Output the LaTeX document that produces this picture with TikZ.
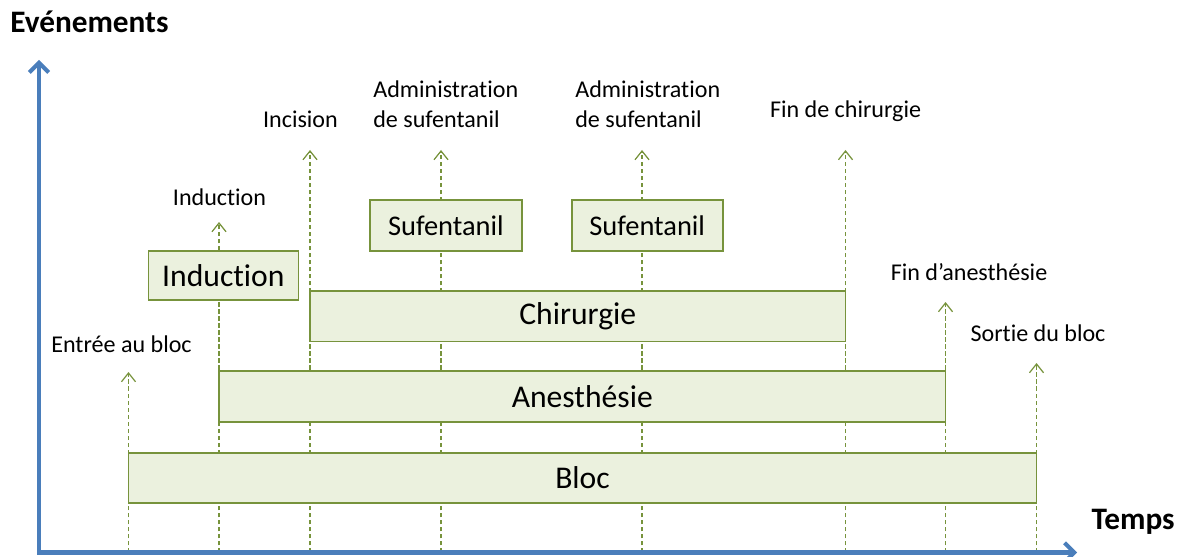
\documentclass[tikz,border=0pt]{standalone}
\usepackage{fontspec}
\setmainfont{Carlito}[Ligatures=CommonOff]
\usetikzlibrary{arrows.meta}
\definecolor{boxline}{HTML}{77933C}
\definecolor{boxfill}{HTML}{EBF1DE}
\definecolor{axisblue}{HTML}{4A7EBB}

\begin{document}
\begin{tikzpicture}[x=0.02cm,y=-0.02cm,
  box/.style={draw=boxline,fill=boxfill,line width=1pt,inner sep=0pt,font=\fontsize{18}{21}\selectfont},
  evt/.style={draw=boxline,line width=0.7pt,dash pattern=on 2.5pt off 1.5pt,-{Straight Barb[length=5pt,width=8pt]}},
  lbl/.style={font=\fontsize{13.7}{17}\selectfont,inner sep=0pt,align=center},
  axe/.style={draw=axisblue,line width=2.3pt,line join=miter,{Straight Barb[length=5.5pt,width=11pt]}-{Straight Barb[length=5.5pt,width=11pt]}}]
\useasboundingbox (0,0) rectangle (1185,557);

\coordinate (O) at (39,552.5);
\coordinate (ytop) at (39,60);
\coordinate (xend) at (1077,552.5);

% event tips
\coordinate (a1) at (128.5,372);
\coordinate (a2) at (219,222);
\coordinate (a3) at (310,150);
\coordinate (a4) at (441,150);
\coordinate (a5) at (642,150);
\coordinate (a6) at (845.5,150);
\coordinate (a7) at (945.5,302);
\coordinate (a8) at (1036.5,363);

\draw[evt] (a1 |- O) -- (a1);
\draw[evt] (a2 |- O) -- (a2);
\draw[evt] (a3 |- O) -- (a3);
\draw[evt] (a4 |- O) -- (a4);
\draw[evt] (a5 |- O) -- (a5);
\draw[evt] (a6 |- O) -- (a6);
\draw[evt] (a7 |- O) -- (a7);
\draw[evt] (a8 |- O) -- (a8);

% phases
\node[box,minimum width=18.16cm,minimum height=1.01cm] (bloc) at (582.5,478) {Bloc};
\node[box,minimum width=14.53cm,minimum height=1.02cm] (anesth) at (582.25,396.5) {Anesthésie};
\node[box,minimum width=10.71cm,minimum height=1.01cm] (chir) at (577.75,316.3) {Chirurgie};
\node[box,minimum width=3cm,minimum height=0.99cm] (induc) at (223.4,275.4) {Induction};
\node[box,minimum width=3.03cm,minimum height=1.02cm,font=\fontsize{16.2}{19}\selectfont] (suf1) at (445.9,225.5) {Sufentanil};
\node[box,minimum width=3.02cm,minimum height=1.02cm,font=\fontsize{16.2}{19}\selectfont] (suf2) at (647.2,225.5) {Sufentanil};

% labels
\node[lbl,anchor=base] (l1) at (121.5,352) {Entrée au bloc};
\node[lbl,anchor=base] (l2) at (219.5,205) {Induction};
\node[lbl,anchor=base] (l3) at (300.5,128) {Incision};
\node[lbl,align=left,anchor=south west] (l4) at (373,128) {Administration\\de sufentanil};
\node[lbl,align=left,anchor=south west] (l5) at (575,128) {Administration\\de sufentanil};
\node[lbl,anchor=base] (l6) at (845.5,118) {Fin de chirurgie};
\node[lbl,anchor=base] (l7) at (969,280) {Fin d’anesthésie};
\node[lbl,anchor=base] (l8) at (1038,341) {Sortie du bloc};

\draw[axe] (ytop) -- (O) -- (xend);
\node[anchor=base west,inner sep=0pt,font=\fontsize{17.8}{21}\selectfont\bfseries] (yname) at (10,33) {Evénements};
\node[anchor=base east,inner sep=0pt,font=\fontsize{17.8}{21}\selectfont\bfseries] (xname) at (1175,529) {Temps};

\end{tikzpicture}
\end{document}
